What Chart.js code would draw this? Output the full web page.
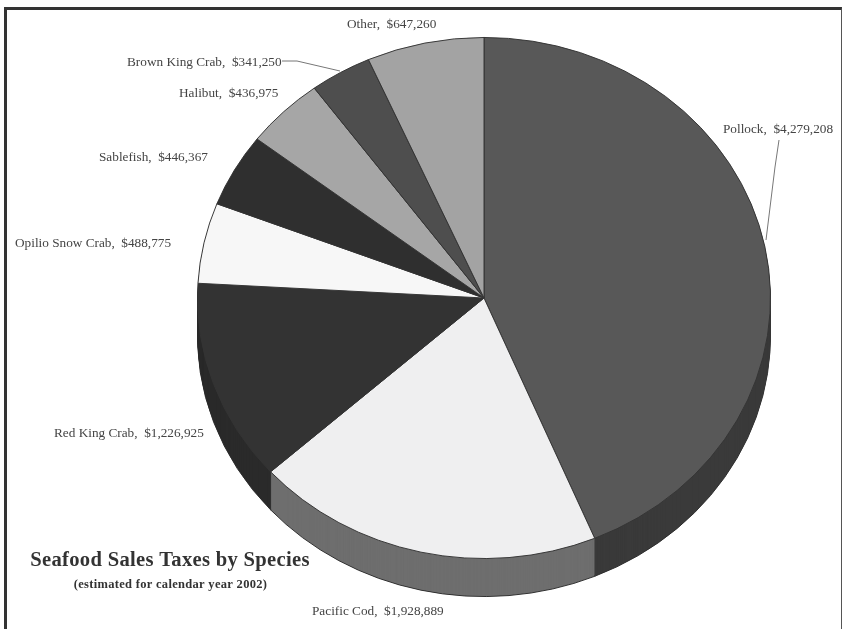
<!DOCTYPE html>
<html>
<head>
<meta charset="utf-8">
<title>Seafood Sales Taxes by Species</title>
<script src="https://cdn.jsdelivr.net/npm/chart.js@4"></script>
<style>
    html, body { margin: 0; padding: 0; background: #fff; overflow: hidden; }
    #wrap { position: relative; width: 842px; height: 629px; }
    #frame {
        position: absolute; left: 4px; top: 7px; right: 0; bottom: 0;
        border-left: 3px solid #333; border-top: 3px solid #333; border-right: 1px solid #555;
    }
    /* the reference is a soft scan */
    canvas { position: absolute; left: 0; top: 0; filter: blur(0.45px); }
</style>
</head>
<body>
<div id="wrap">
    <div id="frame"></div>
    <canvas id="pie" width="842" height="629"></canvas>
</div>
<script>
// Data
const species = ['Pollock', 'Pacific Cod', 'Red King Crab', 'Opilio Snow Crab', 'Sablefish', 'Halibut', 'Brown King Crab', 'Other'];
const taxes = [4279208, 1928889, 1226925, 488775, 446367, 436975, 341250, 647260];

// Colours
const faceColors = ['#585858', '#efeff0', '#333333', '#f7f7f7', '#2f2f2f', '#a6a6a6', '#4e4e4e', '#a3a3a3'];
const sideColors = ['#3a3a3a', '#6e6e6e', '#2a2a2a', '#2a2a2a', '#2a2a2a', '#2a2a2a', '#2a2a2a', '#2a2a2a'];

// Layout of the tilted pie
const PIE_CY = 298;
const PIE_RY = 261;
const PIE_RX = 287;
const PIE_DEPTH = 38;

const labelPos = [[723, 133], [312, 615], [54, 437], [15, 247], [99, 161], [179, 97], [127, 66], [347, 28]];
const leaders = [
    [[779, 140], [775, 167], [766, 240]],
    [[282, 61], [297, 61], [340, 71]]
];

// Squash the pie into an ellipse while the library draws it
function tilt(ctx, arc, dy) {
    ctx.translate(0, PIE_CY + dy);
    ctx.scale(1, PIE_RY / PIE_RX);
    ctx.translate(0, -arc.y);
}

const tiltedPie = {
    id: 'tiltedPie',
    beforeDatasetsDraw(chart) {
        const ctx = chart.ctx;
        const arcs = chart.getDatasetMeta(0).data;
        // side wall: the same arcs stacked downwards in the darker colours
        for (let dy = PIE_DEPTH; dy > 0; dy--) {
            arcs.forEach((arc, i) => {
                const saved = arc.options;
                arc.options = {
                    backgroundColor: sideColors[i],
                    borderColor: '#2a2a2a',
                    borderWidth: dy === PIE_DEPTH ? 1 : 0,
                    borderAlign: 'center', borderJoinStyle: 'round', borderRadius: 0,
                    borderDash: [], borderDashOffset: 0,
                    circular: true, offset: 0, spacing: 0, selfJoin: false
                };
                ctx.save();
                tilt(ctx, arc, dy);
                arc.draw(ctx);
                ctx.restore();
                arc.options = saved;
            });
        }
        ctx.save();
        tilt(ctx, arcs[0], 0);
    },
    afterDatasetsDraw(chart) {
        chart.ctx.restore();
    },
    afterDraw(chart) {
        const ctx = chart.ctx;
        ctx.save();

        // leader lines
        ctx.strokeStyle = '#777';
        ctx.lineWidth = 1;
        leaders.forEach(pts => {
            ctx.beginPath();
            pts.forEach((p, i) => i ? ctx.lineTo(p[0], p[1]) : ctx.moveTo(p[0], p[1]));
            ctx.stroke();
        });

        // slice labels
        ctx.fillStyle = '#444';
        ctx.textAlign = 'left';
        ctx.textBaseline = 'alphabetic';
        ctx.font = '13.25px "Liberation Serif"';
        species.forEach((name, i) => {
            const text = name + ',  $' + taxes[i].toLocaleString('en-US');
            ctx.fillText(text, labelPos[i][0], labelPos[i][1]);
        });

        // title
        ctx.fillStyle = '#333';
        ctx.textAlign = 'center';
        ctx.font = 'bold 20.6px "Liberation Serif"';
        ctx.letterSpacing = '0.3px';
        ctx.fillText('Seafood Sales Taxes by Species', 170, 566);
        ctx.font = 'bold 12.5px "Liberation Serif"';
        ctx.letterSpacing = '0.3px';
        ctx.fillText('(estimated for calendar year 2002)', 170.5, 588);
        ctx.restore();
    }
};

new Chart(document.getElementById('pie').getContext('2d'), {
    type: 'pie',
    data: {
        labels: species,
        datasets: [{
            data: taxes,
            backgroundColor: faceColors,
            borderColor: '#333',
            borderWidth: 1
        }]
    },
    options: {
        responsive: false,
        animation: false,
        layout: { padding: { left: 197, right: 71, top: 27, bottom: 28 } },
        plugins: {
            legend: { display: false },
            tooltip: { enabled: false }
        }
    },
    plugins: [tiltedPie]
});
</script>
</body>
</html>
